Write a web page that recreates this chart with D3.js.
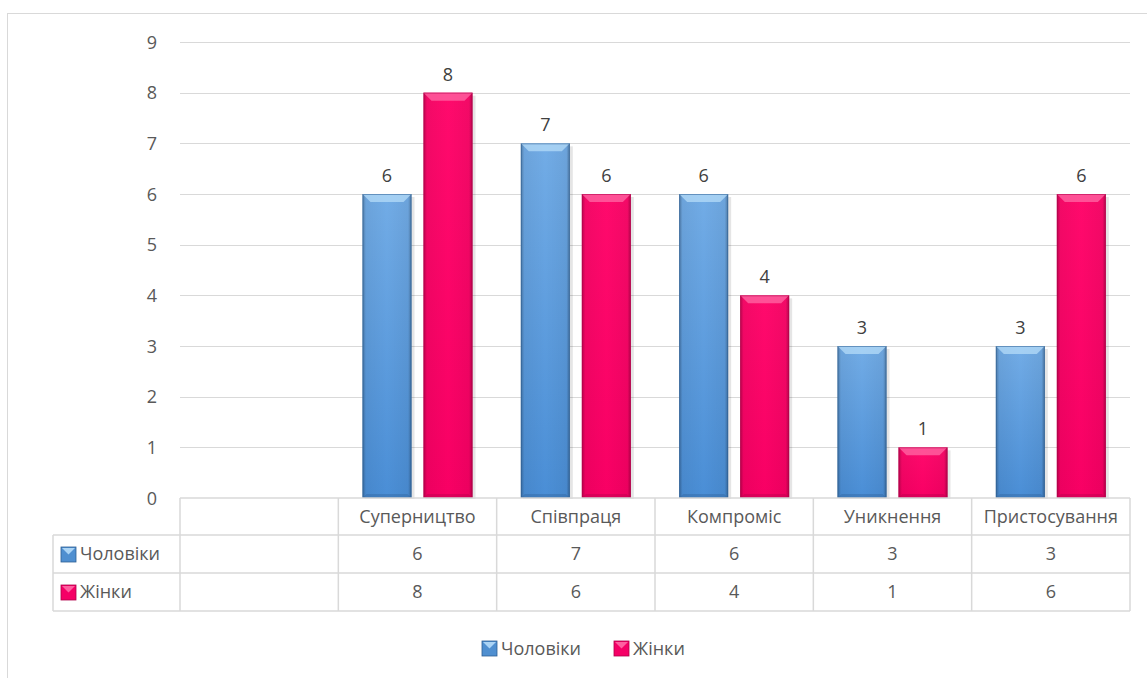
<!DOCTYPE html>
<html><head><meta charset="utf-8">
<script src="https://cdn.jsdelivr.net/npm/d3@7"></script>
<style>body{margin:0;background:#fff;} text{font-family:"Open Sans","Liberation Sans",sans-serif;}</style>
</head><body><svg id="c" width="1147" height="678"></svg>
<script>
const categories = ["", "Суперництво", "Співпраця", "Компроміс", "Уникнення", "Пристосування"];
const seriesNames = ["Чоловіки", "Жінки"];
const men = [null, 6, 7, 6, 3, 3];
const women = [null, 8, 6, 4, 1, 6];
const yTicks = [0,1,2,3,4,5,6,7,8,9];

const svg = d3.select("#c");
const defs = svg.append("defs");
function grad(id, stops, vertical){
  const g = defs.append("linearGradient").attr("id", id).attr("x1",0).attr("x2",vertical?0:1).attr("y1",0).attr("y2",vertical?1:0);
  stops.forEach(s=>g.append("stop").attr("offset",s[0]).attr("stop-color",s[1]).attr("stop-opacity", s[2]==null?1:s[2]));
}
grad("gb", [[0,"#72ace6"],[1,"#4a8ed6"]], true);
grad("gp", [[0,"#ff0a6c"],[1,"#f80064"]], true);
grad("side", [[0,"#000",0.28],[0.07,"#000",0.05],[0.5,"#000",0],[0.93,"#000",0.05],[1,"#000",0.3]], false);
const colors = {fill:["url(#gb)","url(#gp)"], top:["#b5dcf8","#ff6aa6"], bottom:["#2e5f94","#b0004a"], solid:["#4f8fd0","#f50066"]};

// outer border
svg.append("rect").attr("x",7.5).attr("y",13.5).attr("width",1160).attr("height",700).attr("fill","none").attr("stroke","#d9d9d9");

const x0 = 180, x1 = 1130;
const x = d3.scaleBand().domain(categories.map((d,i)=>i)).range([x0,x1]).paddingInner(0).paddingOuter(0);
const y = d3.scaleLinear().domain([0,9]).range([498,42]);
const txt = "#595959";
const FS = "18px";

// gridlines
svg.append("g").selectAll("line").data(yTicks.slice(1)).join("line")
  .attr("x1",x0).attr("x2",x1).attr("y1",d=>Math.round(y(d))+0.5).attr("y2",d=>Math.round(y(d))+0.5)
  .attr("stroke","#d9d9d9").attr("stroke-width",1.2);

// y labels
const yAxis = d3.axisLeft(y).tickValues(yTicks).tickSize(0).tickPadding(0);
const ga = svg.append("g").attr("transform","translate(157,0)").call(yAxis);
ga.select(".domain").remove();
ga.selectAll("text").attr("fill",txt).attr("dy","0.34em").style("font-size",FS).style("font-family","'Open Sans','Liberation Sans',sans-serif");

// bars
const bw = 49, gap = 12;
const series = [men, women];
series.forEach((vals, si)=>{
  const g = svg.append("g");
  vals.forEach((v, ci)=>{
    if (v == null) return;
    const cx = x(ci) + x.bandwidth()/2;
    const bx = si===0 ? cx - gap/2 - bw : cx + gap/2;
    const by = y(v), bh = y(0) - y(v);
    // shadow
    g.append("rect").attr("x",bx+2).attr("y",by+3).attr("width",bw+1).attr("height",bh-2).attr("fill","#000").attr("opacity",0.1);
    g.append("rect").attr("x",bx).attr("y",by).attr("width",bw).attr("height",bh).attr("fill",colors.fill[si]);
    g.append("rect").attr("x",bx).attr("y",by).attr("width",bw).attr("height",bh).attr("fill","url(#side)");
    const b = 8;
    g.append("path").attr("d",`M${bx},${by} L${bx+bw},${by} L${bx+bw-b},${by+b} L${bx+b},${by+b} Z`).attr("fill",colors.top[si]).attr("opacity",0.75);
    g.append("path").attr("d",`M${bx},${by+bh} L${bx+bw},${by+bh} L${bx+bw-4},${by+bh-4} L${bx+4},${by+bh-4} Z`).attr("fill",colors.bottom[si]).attr("opacity",0.35);
    g.append("rect").attr("x",bx+0.5).attr("y",by+0.5).attr("width",bw-1).attr("height",bh-1).attr("fill","none").attr("stroke",colors.bottom[si]).attr("stroke-opacity",0.55);
    g.append("text").attr("x",bx+bw/2).attr("y",by-12).attr("text-anchor","middle").attr("fill","#404040").style("font-size",FS).text(v);
  });
});

// data table
const rowY = [498, 535, 573, 611];
const tl = 53;
const tg = svg.append("g").attr("stroke","#d9d9d9").attr("stroke-width",1.5).attr("fill","none");
tg.append("line").attr("x1",x0).attr("x2",x1).attr("y1",rowY[0]).attr("y2",rowY[0]);
tg.append("line").attr("x1",tl).attr("x2",x1).attr("y1",rowY[1]).attr("y2",rowY[1]);
tg.append("line").attr("x1",tl).attr("x2",x1).attr("y1",rowY[2]).attr("y2",rowY[2]);
tg.append("line").attr("x1",tl).attr("x2",x1).attr("y1",rowY[3]).attr("y2",rowY[3]);
tg.append("line").attr("x1",tl).attr("x2",tl).attr("y1",rowY[1]).attr("y2",rowY[3]);
categories.forEach((c,i)=>{
  tg.append("line").attr("x1",x(i)).attr("x2",x(i)).attr("y1",rowY[0]).attr("y2",rowY[3]);
});
tg.append("line").attr("x1",x1).attr("x2",x1).attr("y1",rowY[0]).attr("y2",rowY[3]);

const tt = svg.append("g").style("font-size",FS).attr("fill",txt);
categories.forEach((c,i)=>{
  tt.append("text").attr("x",x(i)+x.bandwidth()/2).attr("y",(rowY[0]+rowY[1])/2+6).attr("text-anchor","middle").text(c);
  series.forEach((vals,si)=>{
    if (vals[i]==null) return;
    tt.append("text").attr("x",x(i)+x.bandwidth()/2).attr("y",(rowY[si+1]+rowY[si+2])/2+6).attr("text-anchor","middle").text(vals[i]);
  });
});

function key(g, kx, ky, si){
  g.append("rect").attr("x",kx).attr("y",ky).attr("width",15).attr("height",15).attr("fill",colors.solid[si]).attr("stroke",colors.bottom[si]).attr("stroke-width",0.8);
  g.append("path").attr("d",`M${kx+1},${ky+1} L${kx+14},${ky+1} L${kx+7.5},${ky+7.5} Z`).attr("fill",colors.top[si]).attr("opacity",0.9);
}
seriesNames.forEach((n,si)=>{
  const cy = (rowY[si+1]+rowY[si+2])/2;
  key(svg, 61, cy-7, si);
  tt.append("text").attr("x",80).attr("y",cy+6).text(n);
});

// legend
const lg = svg.append("g").style("font-size",FS).attr("fill",txt);
const lx = [482, 614];
seriesNames.forEach((n,si)=>{
  key(lg, lx[si], 641, si);
  lg.append("text").attr("x",lx[si]+19).attr("y",655).text(n);
});
</script></body></html>
